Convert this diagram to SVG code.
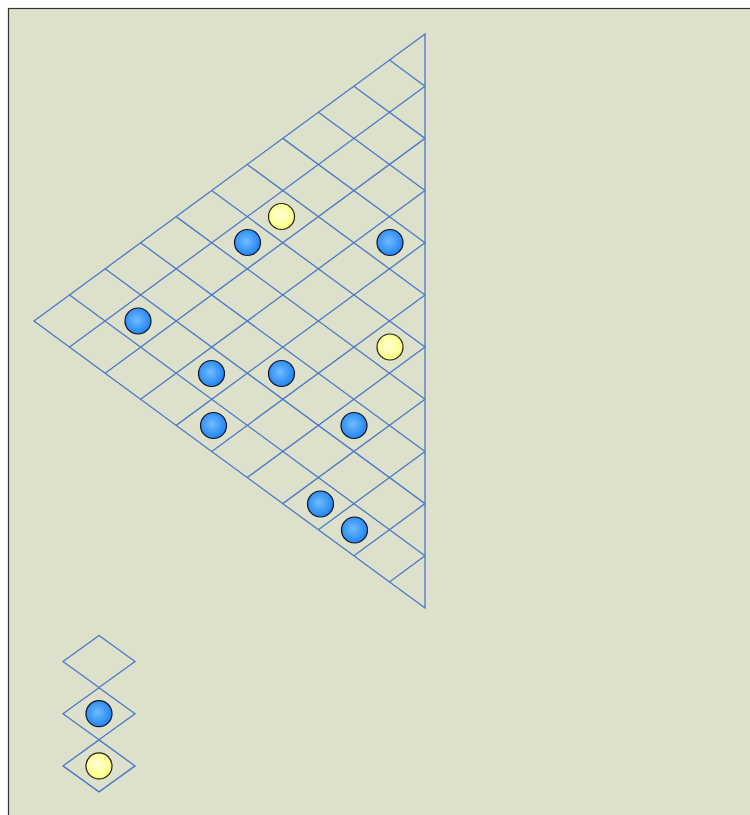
<svg xmlns="http://www.w3.org/2000/svg" width="750" height="815" viewBox="0 0 750 815">
  <style>
    .grid { fill: none; stroke: #4a78c8; stroke-width: 1.3; }
    .blue { fill: url(#gBlue); stroke: #111122; stroke-width: 1.2; }
    .yellow { fill: url(#gYellow); stroke: #222211; stroke-width: 1.2; }
  </style>
  <defs>
    <radialGradient id="gBlue" cx="45%" cy="45%" r="60%">
      <stop offset="0" stop-color="#70bcff"/>
      <stop offset="1" stop-color="#1a7ff0"/>
    </radialGradient>
    <radialGradient id="gYellow" cx="45%" cy="45%" r="60%">
      <stop offset="0" stop-color="#ffffd8"/>
      <stop offset="1" stop-color="#ffff78"/>
    </radialGradient>
  </defs>
  <rect x="8.5" y="8.5" width="760" height="820" fill="#dde1cb" stroke="#333333" stroke-width="1.2"/>

  <g id="connectors" class="grid">
    <polygon points="34,321 425,34 425,608"/>
    <path d="M389.45,60.09 L425,86.18 M353.91,86.18 L425,138.36 M318.36,112.27 L425,190.55 M282.82,138.36 L425,242.73 M247.27,164.45 L425,294.91 M211.73,190.55 L425,347.09 M176.18,216.64 L425,399.27 M140.64,242.73 L425,451.45 M105.09,268.82 L425,503.64 M69.55,294.91 L425,555.82"/>
    <path d="M389.45,581.91 L425,555.82 M353.91,555.82 L425,503.64 M318.36,529.73 L425,451.45 M282.82,503.64 L425,399.27 M247.27,477.55 L425,347.09 M211.73,451.45 L425,294.91 M176.18,425.36 L425,242.73 M140.64,399.27 L425,190.55 M105.09,373.18 L425,138.36 M69.55,347.09 L425,86.18"/>
  </g>

  <g id="stone-y1"><circle class="yellow" cx="281.5" cy="216.5" r="13"/></g>
  <g id="stone-b1"><circle class="blue" cx="247.5" cy="242.5" r="13"/></g>
  <g id="stone-b2"><circle class="blue" cx="390" cy="242.5" r="13"/></g>
  <g id="stone-b3"><circle class="blue" cx="138" cy="321" r="13"/></g>
  <g id="stone-y2"><circle class="yellow" cx="390" cy="347" r="13"/></g>
  <g id="stone-b4"><circle class="blue" cx="211.5" cy="373.5" r="13"/></g>
  <g id="stone-b5"><circle class="blue" cx="281.5" cy="373.5" r="13"/></g>
  <g id="stone-b6"><circle class="blue" cx="213.5" cy="425.5" r="13"/></g>
  <g id="stone-b7"><circle class="blue" cx="354" cy="425.5" r="13"/></g>
  <g id="stone-b8"><circle class="blue" cx="320.5" cy="504" r="13"/></g>
  <g id="stone-b9"><circle class="blue" cx="354.5" cy="530" r="13"/></g>

  <g id="legend-empty"><polygon class="grid" points="99,635.5 135,661.5 99,687.5 63,661.5"/></g>
  <g id="legend-blue">
    <polygon class="grid" points="99,687.7 135,713.7 99,739.7 63,713.7"/>
    <circle class="blue" cx="99" cy="713.7" r="13"/>
  </g>
  <g id="legend-yellow">
    <polygon class="grid" points="99,739.9 135,765.9 99,791.9 63,765.9"/>
    <circle class="yellow" cx="99" cy="765.9" r="13"/>
  </g>
</svg>
